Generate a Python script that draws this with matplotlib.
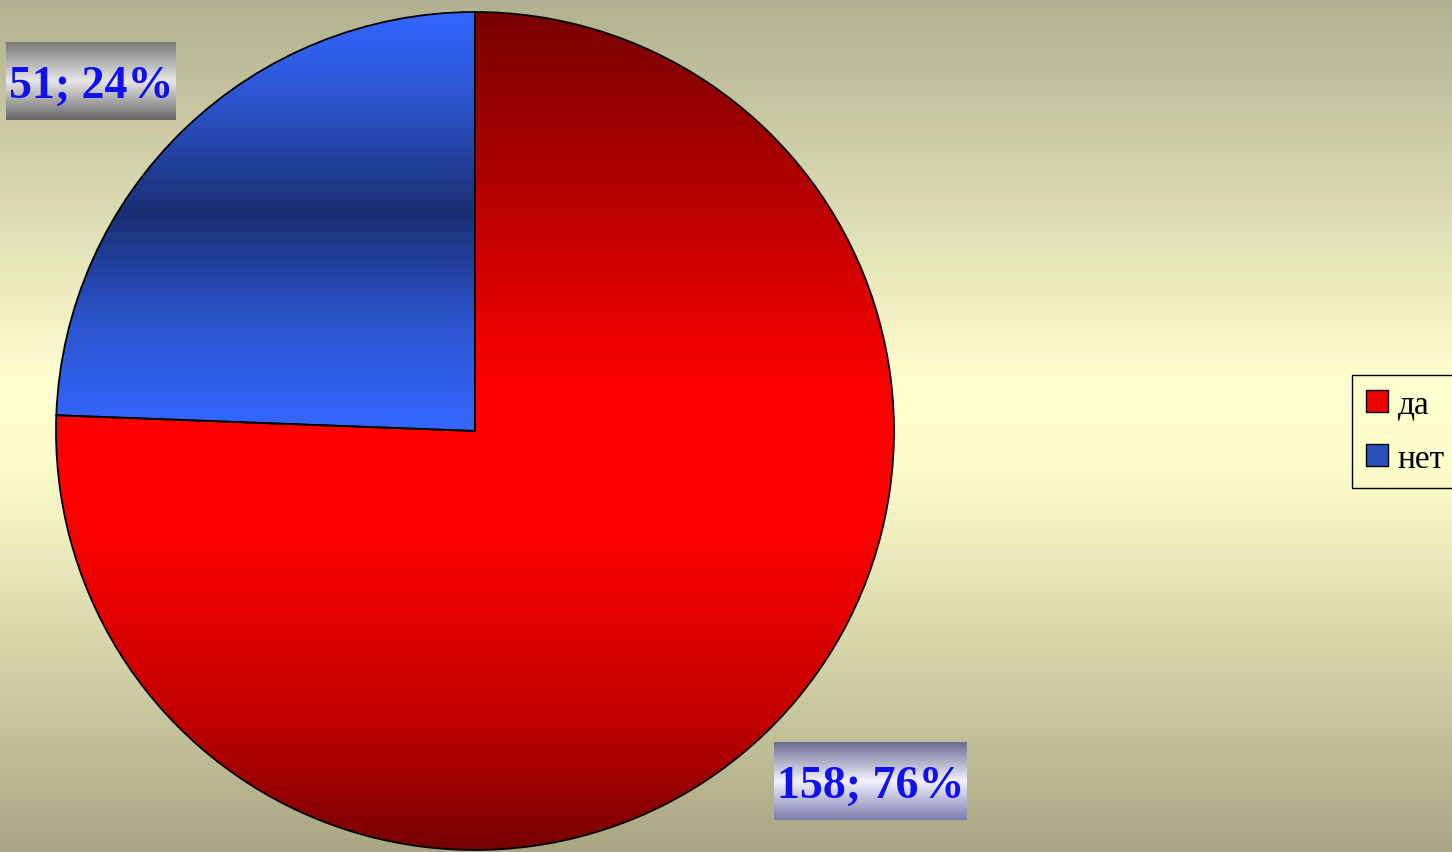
import numpy as np
import matplotlib.pyplot as plt
from matplotlib.colors import LinearSegmentedColormap
from matplotlib.patches import Patch

# данные
labels = ['да', 'нет']
values = [158, 51]

W, H = 1452, 853
CX, CY, R = 475, 421, 419

fig = plt.figure(figsize=(W / 100, H / 100), dpi=100)

# фон с градиентом
bg = fig.add_axes([0, 0, 1, 1])
bg.axis('off')
bg_cmap = LinearSegmentedColormap.from_list(
    'bg', [(0, '#b1b090'), (0.45, '#ffffcf'), (0.55, '#fdfdcb'), (1, '#a9a784')])
grad = np.linspace(0, 1, 256).reshape(-1, 1)
bg.imshow(grad, cmap=bg_cmap, aspect='auto', extent=(0, 1, 0, 1), origin='upper')
bg.set_xlim(0, 1)
bg.set_ylim(0, 1)

ax = fig.add_axes([0, 0, 1, 1])
ax.patch.set_alpha(0)

wedges, _ = ax.pie(values, startangle=90, counterclock=False,
                   center=(CX, CY), radius=R,
                   wedgeprops=dict(facecolor='none', edgecolor='black', linewidth=1.3))
for w in wedges:
    w.set_zorder(3)

red_cmap = LinearSegmentedColormap.from_list(
    'red', [(0, '#780000'), (0.2, '#b00000'), (0.45, '#ff0000'), (0.62, '#ff0000'),
            (0.85, '#c00000'), (1, '#760000')])
blue_cmap = LinearSegmentedColormap.from_list(
    'blue', [(0, '#3366ff'), (0.2, '#2c55d0'), (0.48, '#1a2f72'), (0.75, '#2c55d0'),
             (1, '#3467ff')])

img = ax.imshow(grad, cmap=red_cmap, aspect='auto', origin='upper',
                extent=(CX - R, CX + R, CY - R, CY + R), zorder=1)
img.set_clip_path(wedges[0])
img = ax.imshow(grad, cmap=blue_cmap, aspect='auto', origin='upper',
                extent=(CX - R, CX, CY, CY + R), zorder=1)
img.set_clip_path(wedges[1])

ax.set_xlim(0, W)
ax.set_ylim(0, H)
ax.set_aspect('auto')
ax.axis('off')

# подписи долей
total = sum(values)
box_cmaps = [
    LinearSegmentedColormap.from_list('b1', [(0, '#6c6c92'), (0.5, '#f2f2ff'), (1, '#7c7cac')]),
    LinearSegmentedColormap.from_list('b2', [(0, '#7a7a7a'), (0.5, '#e8e8e8'), (1, '#666666')]),
]
fig.canvas.draw()
renderer = fig.canvas.get_renderer()
for w, v, cm in zip(wedges, values, box_cmaps):
    mid = np.deg2rad((w.theta1 + w.theta2) / 2)
    px = CX + 1.03 * R * np.cos(mid)
    py = CY + 1.03 * R * np.sin(mid)
    t = ax.text(px, py, f'{v}; {round(v / total * 100)}%', ha='center', va='center',
                fontsize=33, fontweight='bold', family='Liberation Serif',
                color='#1010f0', zorder=6)
    bb = t.get_window_extent(renderer)
    bw = bb.width + 5
    bh = bb.height + 36
    sx = 1 if np.cos(mid) > 0 else -1
    sy = 1 if np.sin(mid) > 0 else -1
    tx = px + sx * bw / 2
    ty = py + sy * bh / 2
    t.set_position((tx, ty - 5))
    ax.imshow(grad, cmap=cm, aspect='auto', origin='upper', zorder=5,
              extent=(tx - bw / 2, tx + bw / 2, ty - bh / 2, ty + bh / 2))
ax.set_xlim(0, W)
ax.set_ylim(0, H)

# легенда
handles = [Patch(facecolor='#f00000', edgecolor='black'),
           Patch(facecolor='#2d4fbc', edgecolor='black')]
fig.legend(handles, labels, loc='upper left', bbox_to_anchor=(1352 / W, 1 - 376 / H),
           borderaxespad=0,
           prop={'family': 'Liberation Serif', 'size': 24}, frameon=True,
           fancybox=False, edgecolor='black', facecolor='none', framealpha=1,
           handlelength=0.65, handleheight=0.65, handletextpad=0.3,
           labelspacing=0.72, borderpad=0.42)

fig.savefig('out.png', dpi=100)
